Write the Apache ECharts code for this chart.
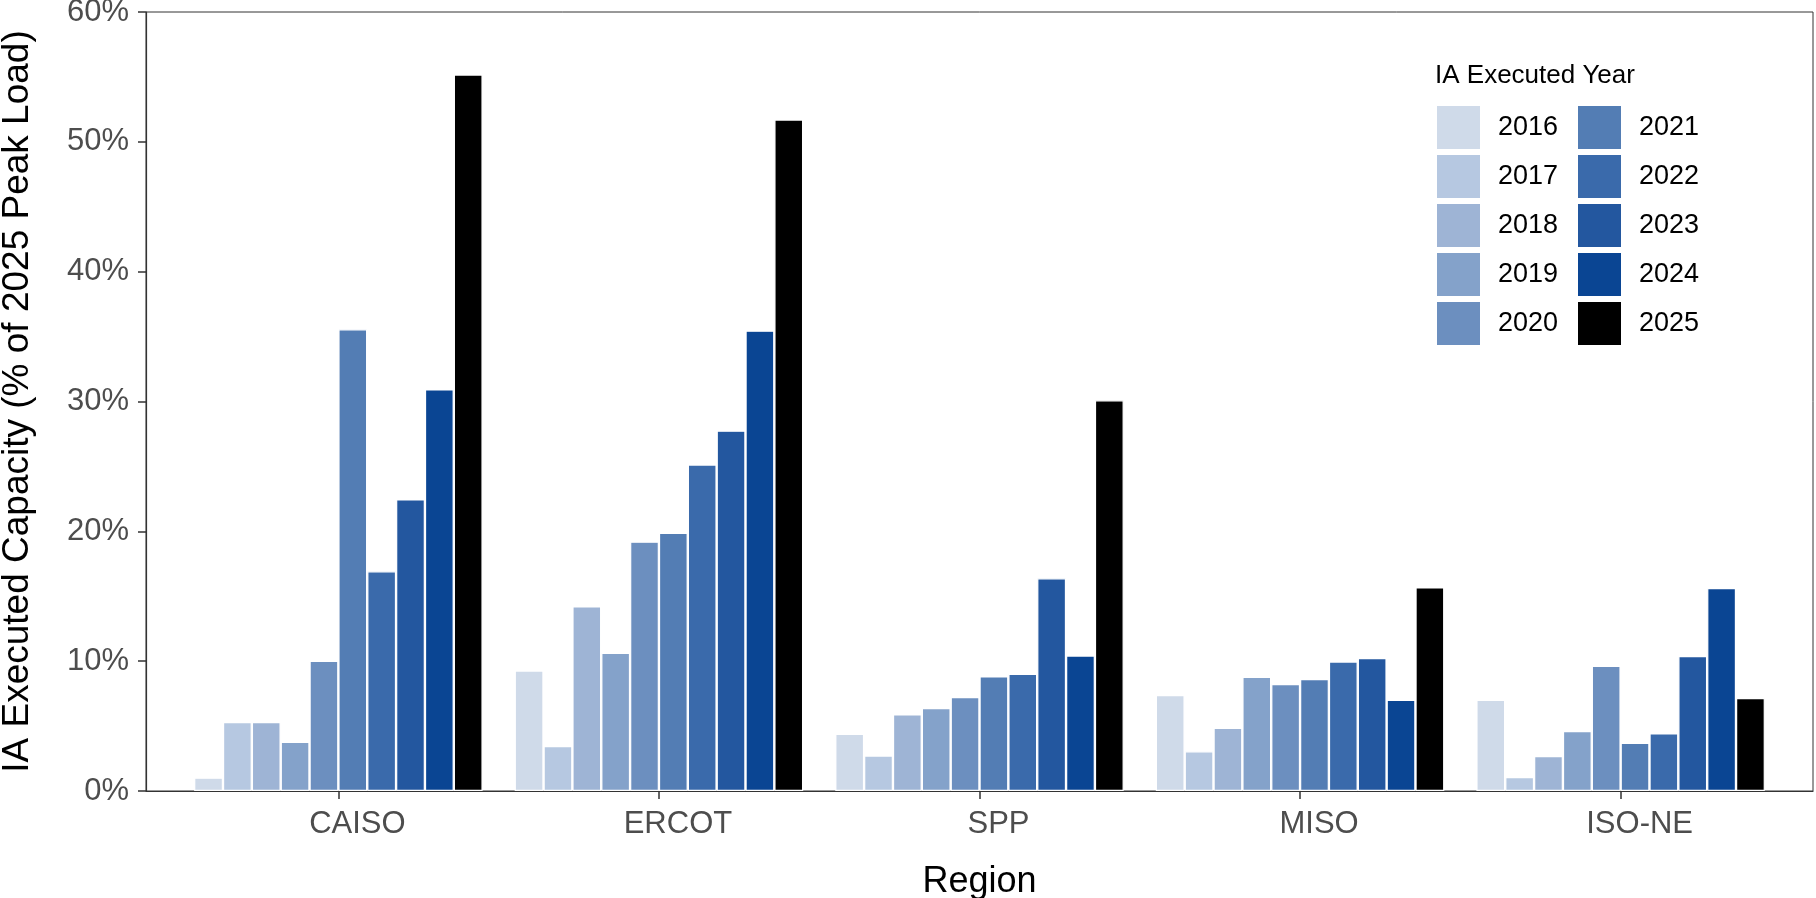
<!DOCTYPE html>
<html><head><meta charset="utf-8">
<script src="https://cdn.jsdelivr.net/npm/echarts@6/dist/echarts.min.js"></script>
<style>html,body{margin:0;padding:0;background:#fff}#c{width:1816px;height:898px}</style>
</head><body><div id="c"></div>
<script>
const regions = ['CAISO', 'ERCOT', 'SPP', 'MISO', 'ISO-NE'];
const years = ['2016', '2017', '2018', '2019', '2020', '2021', '2022', '2023', '2024', '2025'];
// values: % of 2025 peak load, ordered as regions
const v2016 = [1.03, 9.28, 4.40, 7.39, 7.03];
const v2017 = [5.31, 3.46, 2.74, 3.06, 1.08];
const v2018 = [5.31, 14.22, 5.90, 4.87, 2.69];
const v2019 = [3.78, 10.65, 6.39, 8.80, 4.62];
const v2020 = [10.02, 19.21, 7.24, 8.24, 9.65];
const v2021 = [35.57, 19.89, 8.83, 8.62, 3.72];
const v2022 = [16.93, 25.15, 9.03, 9.98, 4.44];
const v2023 = [22.46, 27.76, 16.39, 10.24, 10.39];
const v2024 = [30.94, 35.46, 10.44, 7.03, 15.63];
const v2025 = [55.19, 51.72, 30.10, 15.68, 7.16];
const values = [v2016, v2017, v2018, v2019, v2020, v2021, v2022, v2023, v2024, v2025];
const yMin = 0, yMax = 60, yStep = 10;

const colors = ['#cfdae9', '#b6c8e1', '#9eb4d5', '#84a2ca', '#6c8fbf', '#537db4', '#3a6aab', '#23579f', '#0a4593', '#000000'];
const FONT = 'Liberation Sans, Arial, Helvetica, sans-serif';

const chart = echarts.init(document.getElementById('c'));
const series = years.map((y, i) => ({
  name: y,
  type: 'bar',
  xAxisIndex: 1,
  yAxisIndex: 1,
  data: values[i],
  barGap: '0%',
  barCategoryGap: '10%',
  itemStyle: { color: colors[i], borderColor: '#ffffff', borderWidth: 1.2 }
}));

const legendBase = {
  orient: 'vertical',
  top: 104,
  itemWidth: 45, itemHeight: 45, itemGap: 2,
  icon: 'rect',
  padding: 0,
  textStyle: { fontSize: 27, color: '#000', fontFamily: FONT, padding: [0, 0, 0, 12] }
};

chart.setOption({
  animation: false,
  backgroundColor: '#ffffff',
  textStyle: { fontFamily: FONT },
  title: {
    text: 'IA Executed Year',
    left: 1435, top: 63, padding: 0,
    textStyle: { fontSize: 26, fontWeight: 'normal', color: '#000', fontFamily: FONT }
  },
  legend: [
    Object.assign({}, legendBase, { data: years.slice(0, 5), left: 1435 }),
    Object.assign({}, legendBase, { data: years.slice(5), left: 1576 })
  ],
  grid: [
    { left: 146, right: 3, top: 12, bottom: 107, show: true, borderColor: '#333', borderWidth: 1,
      backgroundColor: 'transparent', containLabel: false, outerBoundsMode: 'none' },
    { left: 178.1, right: 35.1, top: 12, bottom: 107, containLabel: false, outerBoundsMode: 'none' }
  ],
  xAxis: [
    { type: 'value', gridIndex: 0, min: 0, max: 1, show: true,
      axisLine: { show: true, lineStyle: { color: '#333', width: 1.2 } },
      axisTick: { show: false }, axisLabel: { show: false }, splitLine: { show: false } },
    { type: 'category', gridIndex: 1, data: regions,
      axisLine: { show: false },
      axisTick: { show: true, alignWithLabel: true, length: 8, lineStyle: { color: '#333', width: 1.5 } },
      axisLabel: { fontSize: 31, color: '#4d4d4d', margin: 18, fontFamily: FONT, padding: [0, 0, 0, 38] },
      name: 'Region', nameLocation: 'middle', nameGap: 73,
      nameTextStyle: { fontSize: 36, color: '#000', fontFamily: FONT } }
  ],
  yAxis: [
    { type: 'value', gridIndex: 0, min: yMin, max: yMax, interval: yStep,
      axisLine: { show: true, lineStyle: { color: '#333', width: 1.2 } },
      axisTick: { show: true, length: 8, lineStyle: { color: '#333', width: 1.5 } },
      axisLabel: { fontSize: 31, color: '#4d4d4d', margin: 17, formatter: '{value}%', fontFamily: FONT },
      splitLine: { show: false },
      name: 'IA Executed Capacity (% of 2025 Peak Load)', nameLocation: 'middle', nameGap: 110,
      nameTextStyle: { fontSize: 37, color: '#000', fontFamily: FONT } },
    { type: 'value', gridIndex: 1, min: yMin, max: yMax, interval: yStep, show: false,
      splitLine: { show: false } }
  ],
  series: series
});
</script></body></html>
